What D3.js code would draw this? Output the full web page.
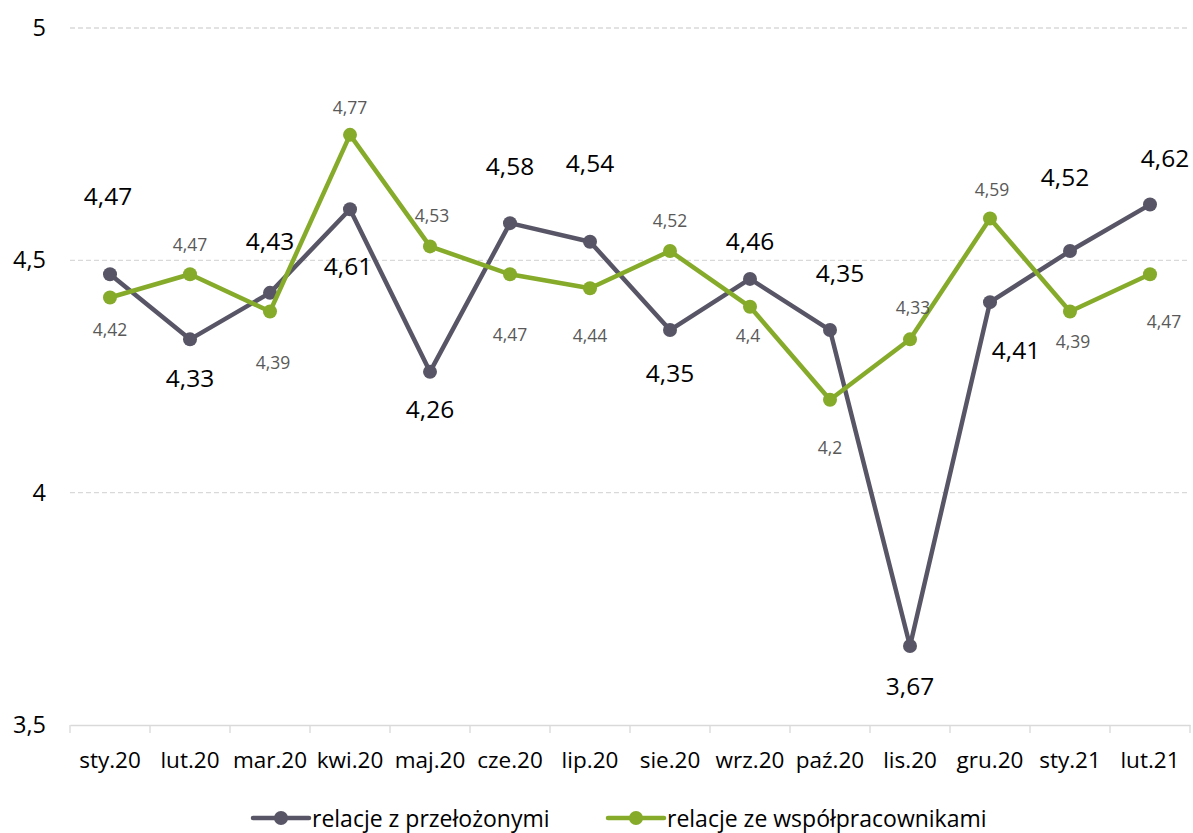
<!DOCTYPE html>
<html>
<head>
<meta charset="utf-8">
<script src="https://cdn.jsdelivr.net/npm/d3@7"></script>
<style>
  html, body { margin: 0; padding: 0; background: #fff; }
  svg { display: block; font-family: "Open Sans", "Noto Sans", sans-serif; }
</style>
</head>
<body>
<svg id="chart" width="1193" height="833"></svg>
<script>
// Monthly averages of workplace relations scores
const months = ["sty.20","lut.20","mar.20","kwi.20","maj.20","cze.20","lip.20","sie.20","wrz.20","paź.20","lis.20","gru.20","sty.21","lut.21"];
const supervisors = [4.47,4.33,4.43,4.61,4.26,4.58,4.54,4.35,4.46,4.35,3.67,4.41,4.52,4.62];
const coworkers   = [4.42,4.47,4.39,4.77,4.53,4.47,4.44,4.52,4.40,4.20,4.33,4.59,4.39,4.47];
const seriesNames = ["relacje z przełożonymi", "relacje ze współpracownikami"];
const yTicks = [3.5, 4, 4.5, 5];

// Hand-placed nudges for the value labels (px, relative to each point)
const supNudgeX = [-2,0,0,-2,0,0,0,0,0,10,0,26,-5,15];
const supNudgeY = [-79,38,-52,56,37,-58,-79,42,-38,-58,39,47,-75,-47];
const cowNudgeX = [0,0,3,0,2,0,0,0,-2,0,3,2,3,14];
const cowNudgeY = [31,-30,51,-28,-31,60,47,-31,28,47,-32,-30,30,47];

const FONT = "'Open Sans', 'Noto Sans', sans-serif";
const svg = d3.select("#chart");
const plot = { left: 70, right: 1190, top: 28, bottom: 725 };

const x = d3.scaleBand().domain(months).range([plot.left, plot.right]);
const y = d3.scaleLinear().domain([3.5, 5]).range([plot.bottom, plot.top]);
const fmt = v => String(v).replace(".", ",");

const darkCol = "#585666", greenCol = "#86ab2b";

// gridlines
svg.append("g").selectAll("line")
  .data(yTicks.filter(t => t > 3.5))
  .join("line")
  .attr("x1", plot.left).attr("x2", plot.right)
  .attr("y1", d => y(d)).attr("y2", d => y(d))
  .attr("stroke", "#d9d9d9").attr("stroke-width", 1.3)
  .attr("stroke-dasharray", "5,3");

// y axis labels
const yAxis = d3.axisLeft(y).tickValues(yTicks).tickFormat(fmt).tickSize(0).tickPadding(24);
const gy = svg.append("g").attr("transform", `translate(${plot.left},0)`).call(yAxis);
gy.select(".domain").remove();
gy.selectAll("text").attr("font-size", 23.5).attr("fill", "#000").attr("font-family", FONT);

// x axis with ticks at category boundaries
const gx = svg.append("g").attr("transform", `translate(0,${plot.bottom})`)
  .call(d3.axisBottom(x).tickSize(0).tickPadding(27));
gx.select(".domain").attr("stroke", "#d9d9d9").attr("stroke-width", 1.3);
gx.selectAll("text").attr("font-size", 22.5).attr("fill", "#000").attr("font-family", FONT);
const bounds = months.map(m => x(m)).concat([x(months[months.length - 1]) + x.bandwidth()]);
gx.append("g").selectAll("line").data(bounds).join("line")
  .attr("x1", d => d).attr("x2", d => d).attr("y1", 0).attr("y2", 8)
  .attr("stroke", "#d9d9d9").attr("stroke-width", 1.3);

const cx = m => x(m) + x.bandwidth() / 2;
const line = d3.line().x(d => cx(d.m)).y(d => y(d.v));

function drawSeries(values, color) {
  const data = months.map((m, i) => ({ m, v: values[i] }));
  svg.append("path").datum(data)
    .attr("d", line).attr("fill", "none")
    .attr("stroke", color).attr("stroke-width", 4.5)
    .attr("stroke-linejoin", "round");
  svg.append("g").selectAll("circle").data(data).join("circle")
    .attr("cx", d => cx(d.m)).attr("cy", d => y(d.v))
    .attr("r", 7).attr("fill", color);
}

drawSeries(supervisors, darkCol);
drawSeries(coworkers, greenCol);

// value labels
svg.append("g").selectAll("text").data(coworkers).join("text")
  .attr("x", (d, i) => cx(months[i]) + cowNudgeX[i])
  .attr("y", (d, i) => y(d) + cowNudgeY[i])
  .attr("text-anchor", "middle").attr("dominant-baseline", "central")
  .attr("font-size", 17.5).attr("fill", "#595959")
  .text(fmt);

svg.append("g").selectAll("text").data(supervisors).join("text")
  .attr("x", (d, i) => cx(months[i]) + supNudgeX[i])
  .attr("y", (d, i) => y(d) + supNudgeY[i])
  .attr("text-anchor", "middle").attr("dominant-baseline", "central")
  .attr("font-size", 24.5).attr("fill", "#000")
  .text(fmt);

// legend
const legendItems = [
  { name: seriesNames[0], color: darkCol, x0: 253 },
  { name: seriesNames[1], color: greenCol, x0: 608 }
];
const lg = svg.append("g").selectAll("g").data(legendItems).join("g")
  .attr("transform", d => `translate(${d.x0},818)`);
lg.append("line").attr("x1", 0).attr("x2", 56).attr("y1", 0).attr("y2", 0)
  .attr("stroke", d => d.color).attr("stroke-width", 4.5).attr("stroke-linecap", "round");
lg.append("circle").attr("cx", 28).attr("cy", 0).attr("r", 7).attr("fill", d => d.color);
lg.append("text").attr("x", 59).attr("y", 0).attr("dominant-baseline", "central")
  .attr("font-size", 23).attr("fill", "#000").text(d => d.name);
</script>
</body>
</html>
